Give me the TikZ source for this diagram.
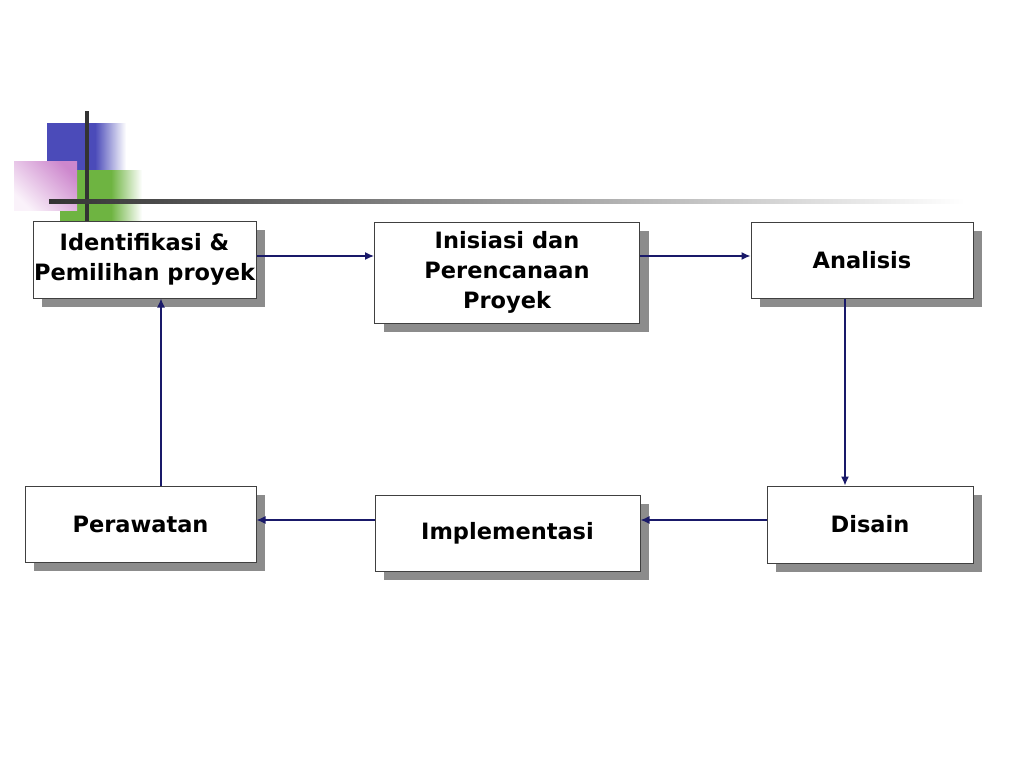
\documentclass[tikz,border=0pt]{standalone}
\usepackage{fontspec}
\setmainfont{DejaVu Sans}
\usetikzlibrary{shadows,arrows.meta}
\definecolor{biru}{RGB}{75,75,185}
\definecolor{hijau}{RGB}{110,180,65}
\definecolor{ungu}{RGB}{205,135,205}
\definecolor{marinho}{RGB}{25,25,105}

\begin{document}
\begin{tikzpicture}[x=1pt, y=-1pt,
		caixa/.style={shape=rectangle, draw=black!75, line width=1pt, fill=white, align=center,
			inner sep=0pt, font=\fontsize{22.5}{30}\selectfont\bfseries,
			drop shadow={shadow xshift=9pt, shadow yshift=-9pt, fill=black!45, opacity=1}},
		seta/.style={->, color=marinho, line width=1.4pt},
		>={Latex[length=9pt, width=8pt]}]
			\useasboundingbox (0,0) rectangle (1024,768);
			
			% enfeite do canto
			\fill[biru] (47,123) rectangle (96,172);
			\shade[left color=biru, right color=white] (95,123) rectangle (126,172);
			\fill[hijau] (60,170) rectangle (112,221);
			\shade[left color=hijau, right color=white] (111,170) rectangle (142,221);
			\shade[bottom color={rgb,255:red,250;green,242;blue,250}, top color=ungu, shading angle=-45] (14,161) rectangle (77,210);
			\fill[black!80] (85,111) rectangle (89,222);
			\shade[left color=black!80, middle color=black!30, right color=white] (49,199) rectangle (965,203);
			
			\node (z1)[caixa, minimum width=223pt, minimum height=77pt] 
			at (144.5,259.5){%
				Identifikasi \&\\ Pemilihan proyek%
			}; 
			
			\node (z2)[caixa, minimum width=265pt, minimum height=101pt] 
			at (507,272.5){%
				Inisiasi dan\\ Perencanaan\\ Proyek%
			}; 
			
			\node (z3)[caixa, minimum width=222pt, minimum height=76pt] 
			at (862,260){%
				Analisis%
			}; 
			
			\node (z4)[caixa, minimum width=206pt, minimum height=77pt] 
			at (870,524.5){%
				Disain%
			}; 
			
			\node (z5)[caixa, minimum width=265pt, minimum height=76pt] 
			at (507.5,533){%
				Implementasi%
			}; 
			
			\node (z6)[caixa, minimum width=231pt, minimum height=76pt] 
			at (140.5,524){%
				Perawatan%
			}; 
			
			\path[seta] ([yshift=3.5pt]z1.east) edge ([yshift=16.5pt]z2.west);
			\path[seta] ([yshift=16.5pt]z2.east) edge ([yshift=4pt]z3.west);
			\path[seta] ([xshift=-17pt]z3.south) edge ([xshift=-25pt]z4.north);
			\path[seta] ([yshift=4.5pt]z4.west) edge ([yshift=13pt]z5.east);
			\path[seta] ([yshift=13pt]z5.west) edge ([yshift=4pt]z6.east);
			\path[seta] ([xshift=20.5pt]z6.north) edge ([xshift=16.5pt]z1.south);
		\end{tikzpicture}
\end{document}
